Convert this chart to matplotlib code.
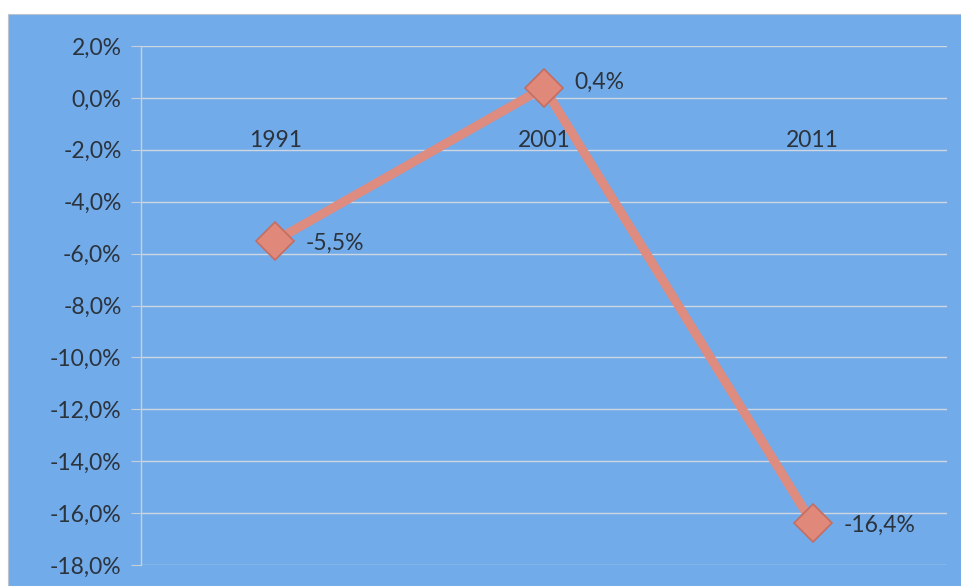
import matplotlib
matplotlib.use("Agg")
import matplotlib.pyplot as plt
from matplotlib.patches import Rectangle

years = ["1991", "2001", "2011"]
values = [-5.5, 0.4, -16.4]
value_labels = ["-5,5%", "0,4%", "-16,4%"]
yticks = [2, 0, -2, -4, -6, -8, -10, -12, -14, -16, -18]

W, H = 962, 586
fig = plt.figure(figsize=(W / 100, H / 100), dpi=100, facecolor="white")
plt.rcParams["font.family"] = ["Lato", "DejaVu Sans"]

# blue chart background
fig.patches.append(Rectangle((8 / W, 0), 1 - 8 / W, 1 - 14 / H, transform=fig.transFigure,
                             facecolor="#72abe9", edgecolor="#b9c4d0", linewidth=0.8, zorder=-5))

ax = fig.add_axes([141 / W, 1 - 565 / H, (947 - 141) / W, (565 - 46) / H])
ax.set_facecolor("none")
ax.set_zorder(2)
ax.spines["bottom"].set_position(("data", 0))
ax.spines["bottom"].set_visible(False)

x = list(range(len(years)))
ax.plot(x, values, color="#de8b80", linewidth=6.5, solid_capstyle="butt", zorder=3)
ax.plot(x, values, linestyle="none", marker="D", markersize=19,
        markerfacecolor="#e0887a", markeredgecolor="#c26e62", markeredgewidth=1.2, zorder=4)

fs = 16.5
txt = "#2b333d"
offsets = [(22, -2), (22, 4), (22, -1)]
for xi, v, lab, off in zip(x, values, value_labels, offsets):
    ax.annotate(lab, (xi, v), xytext=off, textcoords="offset points",
                ha="left", va="center", fontsize=fs, color=txt)

ax.set_xlim(-0.5, len(years) - 0.5)
ax.set_ylim(-18, 2)
ax.set_yticks(yticks)
ax.set_yticklabels([f"{v:.1f}%".replace(".", ",") for v in yticks], fontsize=fs, color=txt)
ax.yaxis.grid(True, color="#cdd6e1", linewidth=1.0)
ax.set_axisbelow(True)
ax.tick_params(axis="y", length=7, color="#c8d0da", pad=7)

ax.set_xticks(x)
ax.set_xticklabels(years, fontsize=fs, color=txt)
ax.tick_params(axis="x", length=0, pad=23)

for s in ["top", "right"]:
    ax.spines[s].set_visible(False)
ax.spines["left"].set_color("#c8d0da")
ax.spines["left"].set_linewidth(1.0)

fig.savefig("out.png", dpi=100, facecolor="white")
